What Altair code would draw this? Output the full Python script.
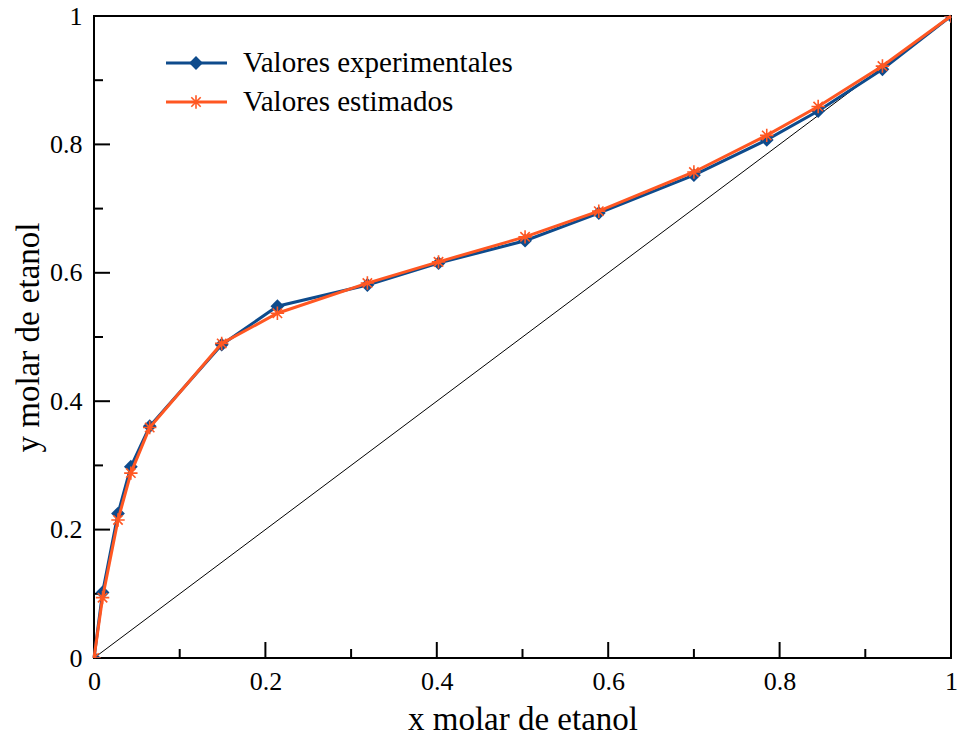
import altair as alt
import pandas as pd

# Data
x_vals = [0, 0.010, 0.028, 0.043, 0.065, 0.149, 0.214, 0.319, 0.402, 0.503, 0.589, 0.700, 0.785, 0.845, 0.920, 1.0]
y_exp = [0, 0.102, 0.225, 0.298, 0.361, 0.488, 0.548, 0.581, 0.615, 0.650, 0.693, 0.752, 0.807, 0.852, 0.917, 1.0]
y_est = [0, 0.094, 0.215, 0.288, 0.359, 0.490, 0.537, 0.584, 0.617, 0.656, 0.696, 0.757, 0.814, 0.859, 0.922, 1.0]
diag_x = [0, 1]
diag_y = [0, 1]
major_ticks = [0, 0.2, 0.4, 0.6, 0.8, 1.0]
minor_ticks = [0.1, 0.3, 0.5, 0.7, 0.9]
legend_labels = ["Valores experimentales", "Valores estimados"]

BLUE = "#0e4b8c"
ORANGE = "#ff5722"
FONT = "Liberation Serif"
W, H = 857, 642

exp_df = pd.DataFrame({"x": x_vals, "y": y_exp})
est_df = pd.DataFrame({"x": x_vals, "y": y_est})
diag_df = pd.DataFrame({"x": diag_x, "y": diag_y})
maj_df = pd.DataFrame({"x": major_ticks, "y": major_ticks})
min_df = pd.DataFrame({"x": minor_ticks, "y": minor_ticks})

xscale = alt.Scale(domain=[0, 1], nice=False, zero=False)
yscale = alt.Scale(domain=[0, 1], nice=False, zero=False)

xaxis = alt.Axis(values=major_ticks, format=".1~f", title="x molar de etanol",
                 domain=False, ticks=False, grid=False, labelFont=FONT, labelFontSize=26,
                 labelColor="black", labelPadding=10, labelFlush=False, titleFont=FONT,
                 titleFontSize=33, titleFontWeight="normal", titleColor="black", titlePadding=9)
yaxis = alt.Axis(values=major_ticks, format=".1~f", title="y molar de etanol",
                 domain=False, ticks=False, grid=False, labelFont=FONT, labelFontSize=26,
                 labelColor="black", labelPadding=12, labelFlush=False, titleFont=FONT,
                 titleFontSize=33, titleFontWeight="normal", titleColor="black", titlePadding=4)

X = alt.X("x:Q", scale=xscale, axis=xaxis)
Y = alt.Y("y:Q", scale=yscale, axis=yaxis)

diag = alt.Chart(diag_df).mark_line(color="black", strokeWidth=1).encode(x=X, y=Y)

exp_line = alt.Chart(exp_df).mark_line(color=BLUE, strokeWidth=3).encode(x=X, y=Y)
exp_pts = alt.Chart(exp_df).mark_point(shape="diamond", filled=True, color=BLUE, size=190,
                                       opacity=1, clip=True).encode(x=X, y=Y)

ASTER = "M0,-1L0,1M-1,0L1,0M-0.7,-0.7L0.7,0.7M-0.7,0.7L0.7,-0.7"
est_line = alt.Chart(est_df).mark_line(color=ORANGE, strokeWidth=3).encode(x=X, y=Y)
est_pts = alt.Chart(est_df).mark_point(shape=ASTER, filled=False, color=ORANGE, size=180,
                                       strokeWidth=1.6, opacity=1, clip=True).encode(x=X, y=Y)

# inward ticks
xt_major = alt.Chart(maj_df).mark_rule(color="black", strokeWidth=2).encode(
    x=X, y=alt.value(H), y2=alt.value(H - 16))
xt_minor = alt.Chart(min_df).mark_rule(color="black", strokeWidth=2).encode(
    x=X, y=alt.value(H), y2=alt.value(H - 9))
yt_major = alt.Chart(maj_df).mark_rule(color="black", strokeWidth=2).encode(
    y=Y, x=alt.value(0), x2=alt.value(16))
yt_minor = alt.Chart(min_df).mark_rule(color="black", strokeWidth=2).encode(
    y=Y, x=alt.value(0), x2=alt.value(9))

# manual legend
leg_layers = []
for i, (lab, col) in enumerate(zip(legend_labels, [BLUE, ORANGE])):
    ly = 47 + i * 39
    ldf = pd.DataFrame({"label": [lab]})
    leg_layers.append(alt.Chart(ldf).mark_rule(color=col, strokeWidth=3).encode(
        x=alt.value(72), x2=alt.value(133), y=alt.value(ly)))
    if i == 0:
        leg_layers.append(alt.Chart(ldf).mark_point(shape="diamond", filled=True, color=col,
                                                    size=190, opacity=1).encode(
            x=alt.value(102), y=alt.value(ly)))
    else:
        leg_layers.append(alt.Chart(ldf).mark_point(shape=ASTER, filled=False, color=col,
                                                    size=180, strokeWidth=1.6, opacity=1).encode(
            x=alt.value(102), y=alt.value(ly)))
    leg_layers.append(alt.Chart(ldf).mark_text(align="left", baseline="middle", font=FONT,
                                               fontSize=29, color="black").encode(
        x=alt.value(149), y=alt.value(ly), text="label:N"))

chart = alt.layer(
    diag, xt_major, xt_minor, yt_major, yt_minor,
    exp_line, exp_pts, est_line, est_pts, *leg_layers
).properties(
    width=W, height=H,
    padding={"left": 94, "top": 16, "right": 7, "bottom": 80},
    autosize=alt.AutoSizeParams(type="none"),
    background="white",
).configure_view(stroke="black", strokeWidth=2)

chart.save("out.html", embed_options={"renderer": "svg", "actions": False})
